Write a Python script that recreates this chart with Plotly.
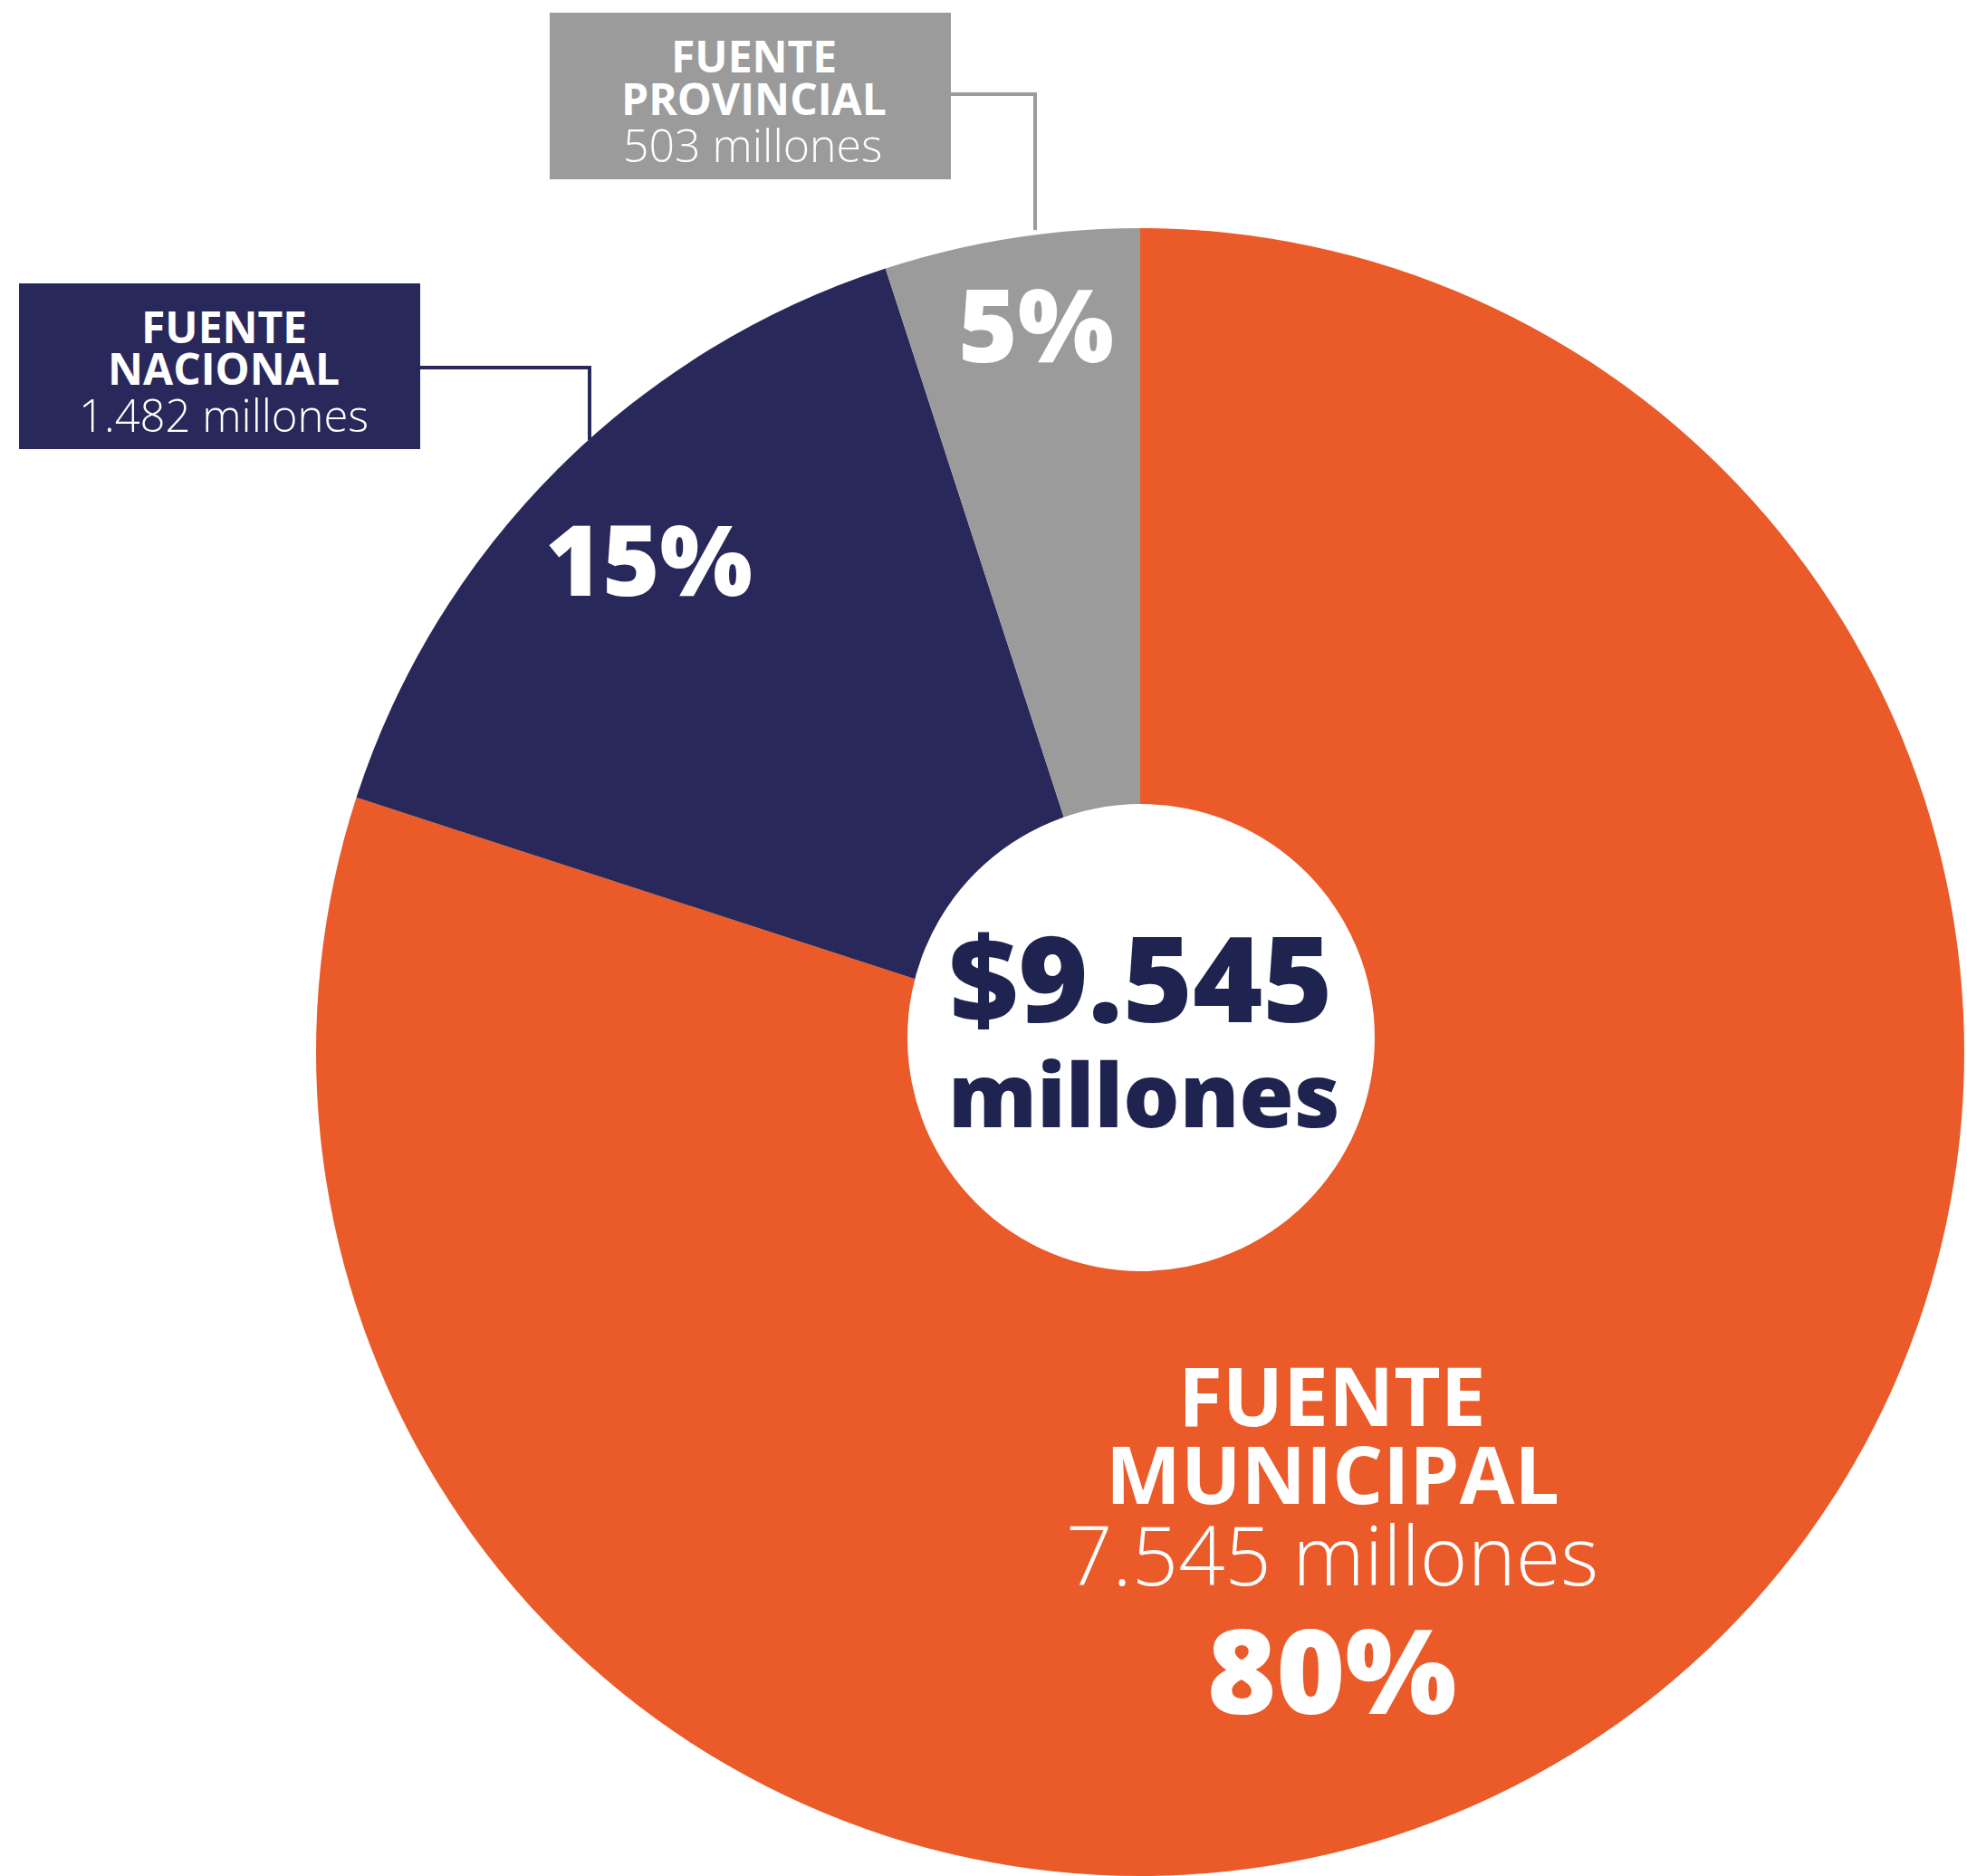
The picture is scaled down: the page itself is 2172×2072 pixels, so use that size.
import plotly.graph_objects as go

W, H = 2172, 2072

# ---- data ----
sources = ["FUENTE MUNICIPAL", "FUENTE NACIONAL", "FUENTE PROVINCIAL"]
name_line1 = ["FUENTE", "FUENTE", "FUENTE"]
name_line2 = ["MUNICIPAL", "NACIONAL", "PROVINCIAL"]
amounts_millones = [7545, 1482, 503]
shares_pct = [80, 15, 5]
total_millones = 9545

colors = ["#EB5A29", "#29285A", "#9B9B9B"]
center_color = "#1F2350"
FONT = "Open Sans"


def fmt(n):
    return f"{n:,}".replace(",", ".")


def px(x):
    return x / W


def py(y):
    return 1 - y / H


fig = go.Figure()
fig.add_trace(go.Pie(
    labels=sources,
    values=shares_pct,
    marker=dict(colors=colors, line=dict(width=0)),
    sort=False,
    direction="clockwise",
    rotation=0,
    textinfo="none",
    hoverinfo="label+percent",
    showlegend=False,
    domain=dict(x=[346 / W, 1.0], y=[0.0, py(252)]),
))

shapes = []
# white centre disc
shapes.append(dict(type="circle", xref="paper", yref="paper",
                   x0=px(1002), x1=px(1518), y0=py(1404), y1=py(888),
                   fillcolor="white", line=dict(width=0), layer="above"))
# label boxes
shapes.append(dict(type="rect", xref="paper", yref="paper",
                   x0=px(607), x1=px(1050), y0=py(198), y1=py(14),
                   fillcolor=colors[2], line=dict(width=0)))
shapes.append(dict(type="rect", xref="paper", yref="paper",
                   x0=px(21), x1=px(464), y0=py(496), y1=py(313),
                   fillcolor=colors[1], line=dict(width=0)))
# leader lines
shapes.append(dict(type="path", xref="paper", yref="paper",
                   path=f"M {px(1050)} {py(104)} L {px(1143)} {py(104)} L {px(1143)} {py(254)}",
                   line=dict(color=colors[2], width=4)))
shapes.append(dict(type="path", xref="paper", yref="paper",
                   path=f"M {px(464)} {py(406)} L {px(651)} {py(406)} L {px(651)} {py(486)}",
                   line=dict(color=colors[1], width=4)))

ann = []


def text(x, y, s, size, color="white", weight=700):
    ann.append(dict(x=px(x), y=py(y), xref="paper", yref="paper", text=s,
                    showarrow=False, xanchor="center", yanchor="middle",
                    font=dict(family=FONT, size=size, color=color, weight=weight)))


# provincial box
text(832, 62, name_line1[2], 48)
text(832, 108, name_line2[2], 48)
text(831, 160, f"{fmt(amounts_millones[2])} millones", 50, weight=300)
# nacional box
text(247, 361, name_line1[1], 48)
text(247, 406, name_line2[1], 48)
text(247, 458, f"{fmt(amounts_millones[1])} millones", 49, weight=300)
# slice percentages
text(1144, 357, f"{shares_pct[2]}%", 112, weight=800)
text(716, 616, f"{shares_pct[1]}%", 108, weight=800)
# municipal
text(1471, 1540, name_line1[0], 89)
text(1471, 1627, name_line2[0], 88)
text(1471, 1716, f"{fmt(amounts_millones[0])} millones", 90, weight=300)
text(1471, 1842, f"{shares_pct[0]}%", 130, weight=800)
# centre total
text(1260, 1078, f"${fmt(total_millones)}", 132, color=center_color, weight=800)
text(1263, 1207, "millones", 98, color=center_color, weight=800)

fig.update_layout(
    width=W, height=H,
    margin=dict(l=0, r=0, t=0, b=0),
    paper_bgcolor="white", plot_bgcolor="white",
    shapes=shapes, annotations=ann,
)

fig.write_html("out.html", config={"displayModeBar": False},
               post_script="document.body.style.margin='0';document.body.style.overflow='hidden';")
